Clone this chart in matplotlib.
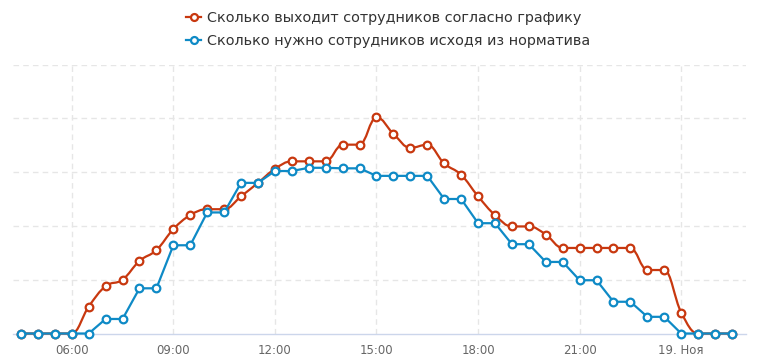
import matplotlib
matplotlib.use("Agg")
import matplotlib.pyplot as plt
import numpy as np
from matplotlib.path import Path
from matplotlib.patches import PathPatch
from matplotlib.lines import Line2D

# half-hour slots from 04:30 to 01:30 next day (hours since midnight)
hours = np.arange(4.5, 25.51, 0.5)

shift_staff = [0, 0, 0, 0, 5.0, 8.8, 10.0, 13.5, 15.5, 19.4, 22.0, 23.1, 23.1, 25.5,
               28.0, 30.6, 32.0, 32.0, 32.0, 35.1, 35.1, 40.2, 37.1, 34.5, 35.1, 31.6,
               29.5, 25.5, 22.0, 19.9, 19.9, 18.4, 15.9, 15.9, 15.9, 15.9, 15.9, 11.8,
               11.8, 3.9, 0, 0, 0]
norm_staff = [0, 0, 0, 0, 0, 2.7, 2.7, 8.4, 8.4, 16.4, 16.4, 22.5, 22.5, 28.0, 28.0,
              30.2, 30.2, 30.8, 30.8, 30.7, 30.7, 29.3, 29.3, 29.3, 29.3, 25.0, 25.0,
              20.5, 20.5, 16.6, 16.6, 13.3, 13.3, 9.9, 9.9, 5.9, 5.9, 3.1, 3.1, 0, 0, 0, 0]

tick_hours = [6, 9, 12, 15, 18, 21, 24]
tick_labels = ["06:00", "09:00", "12:00", "15:00", "18:00", "21:00", "19. Ноя"]
series_names = ["Сколько выходит сотрудников согласно графику",
                "Сколько нужно сотрудников исходя из норматива"]

red = "#c8380f"
blue = "#0e8ac6"

plt.rcParams["font.family"] = ["DejaVu Sans"]


def spline_path(x, y, smoothing=1.5):
    """Highcharts-like spline as cubic bezier path"""
    n = len(x)
    left = [(x[i], y[i]) for i in range(n)]
    right = [(x[i], y[i]) for i in range(n)]
    d = smoothing + 1
    for i in range(1, n - 1):
        lcx = (smoothing * x[i] + x[i - 1]) / d
        lcy = (smoothing * y[i] + y[i - 1]) / d
        rcx = (smoothing * x[i] + x[i + 1]) / d
        rcy = (smoothing * y[i] + y[i + 1]) / d
        if rcx != lcx:
            corr = (rcy - lcy) * (rcx - x[i]) / (rcx - lcx) + y[i] - rcy
            lcy += corr
            rcy += corr
        if lcy > y[i - 1] and lcy > y[i]:
            lcy = max(y[i - 1], y[i]); rcy = 2 * y[i] - lcy
        elif lcy < y[i - 1] and lcy < y[i]:
            lcy = min(y[i - 1], y[i]); rcy = 2 * y[i] - lcy
        if rcy > y[i + 1] and rcy > y[i]:
            rcy = max(y[i + 1], y[i]); lcy = 2 * y[i] - rcy
        elif rcy < y[i + 1] and rcy < y[i]:
            rcy = min(y[i + 1], y[i]); lcy = 2 * y[i] - rcy
        left[i] = (lcx, lcy)
        right[i] = (rcx, rcy)
    verts = [(x[0], y[0])]
    codes = [Path.MOVETO]
    for i in range(1, n):
        verts += [right[i - 1], left[i], (x[i], y[i])]
        codes += [Path.CURVE4] * 3
    return Path(verts, codes)


fig = plt.figure(figsize=(7.76, 3.56), dpi=100)
ax = fig.add_axes([13.3 / 776, 22.5 / 356, (746 - 13.3) / 776, 269 / 356])

ax.add_patch(PathPatch(spline_path(hours, shift_staff), fill=False, edgecolor=red,
                       lw=1.6, zorder=3, clip_on=False))
ax.plot(hours, shift_staff, linestyle="", marker="o", ms=5.5, mfc="white", mec=red,
        mew=1.6, zorder=4, clip_on=False)
ax.plot(hours, norm_staff, color=blue, lw=1.6, marker="o", ms=5.5, mfc="white", mec=blue,
        mew=1.6, zorder=5, clip_on=False)

ax.set_xlim(4.2726, 25.9135)
ax.set_ylim(0, 50)
ax.set_yticks([10, 20, 30, 40, 50])
ax.set_xticks(tick_hours)
ax.set_xticklabels(tick_labels)
ax.tick_params(axis="x", length=0, pad=7.5, labelsize=8.5, labelcolor="#666666")
ax.tick_params(axis="y", length=0, labelleft=False)
ax.grid(True, color="#e6e6e6", linestyle=(0, (4, 3)), linewidth=1)
ax.set_axisbelow(True)
for side in ["top", "left", "right"]:
    ax.spines[side].set_visible(False)
ax.spines["bottom"].set_color("#ccd6eb")
ax.spines["bottom"].set_linewidth(1)

handles = [Line2D([], [], color=red, lw=1.6, marker="o", ms=5, mfc="white", mec=red, mew=1.6),
           Line2D([], [], color=blue, lw=1.6, marker="o", ms=5, mfc="white", mec=blue, mew=1.6)]
leg = fig.legend(handles, series_names, loc="upper center", bbox_to_anchor=(0.5, 1.0),
                 frameon=False, fontsize=10.4, handlelength=1.0, handletextpad=0.4,
                 labelspacing=0.62, labelcolor="#333333", borderaxespad=0.35)

fig.savefig("out.png", dpi=100)
